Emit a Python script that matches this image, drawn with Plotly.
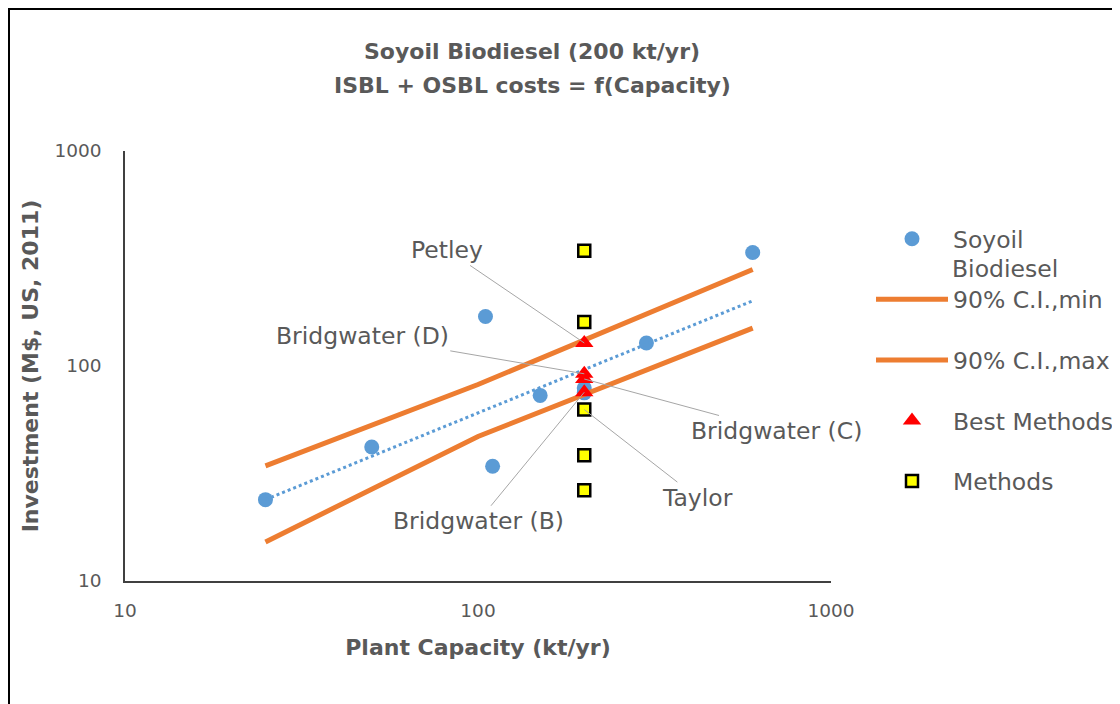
import math
import plotly.graph_objects as go

# ---- data ----
soy_capacity = [25, 50, 105, 110, 150, 200, 200, 300, 600]
soy_invest = [23.9, 42, 170, 34.2, 73, 79, 75, 128, 337]

trend_capacity = [25, 600]
trend_invest = [23.9, 201]

ci_capacity = [25, 100, 600]
ci_min = [15.2, 47, 150]
ci_max = [34.3, 82, 281]

best_capacity = [200, 200, 200, 200]
best_invest = [128, 92, 87, 75.5]

methods_capacity = [200, 200, 200, 200, 200]
methods_invest = [344, 160, 62.7, 38.5, 26.4]

# leader-line labels: text, value of the point it points to, pixel offset of the label
labels = ["Petley", "Bridgwater (D)", "Bridgwater (C)", "Taylor", "Bridgwater (B)"]
label_targets = [128, 92, 87, 62.7, 75.5]
label_offsets = [(-137, -93), (-222, -38), (192, 52), (113, 88), (-106, 129)]

# the page puts the figure 8px in from the window edge
OFF = 8
W, H = 1120 - OFF, 704 - OFF
L, R, T, B = 117, 289, 143, 123
PW, PH = W - L - R, H - T - B

def px(p):
    # screen pixel -> paper x
    return (p - OFF - L) / PW

def py(p):
    # screen pixel -> paper y
    return (H - B - (p - OFF)) / PH

FONT = "DejaVu Sans"
GREY = "#595959"
BLUE = "#5B9BD5"
ORANGE = "#ED7D31"

fig = go.Figure()

fig.add_trace(go.Scatter(
    x=soy_capacity, y=soy_invest, mode="markers", name="Soyoil",
    legendgroup="a", marker=dict(color=BLUE, size=15, symbol="circle")
))
fig.add_trace(go.Scatter(
    x=trend_capacity, y=trend_invest, mode="lines", showlegend=False,
    line=dict(color=BLUE, width=3, dash="dot")
))
fig.add_trace(go.Scatter(
    x=ci_capacity, y=ci_min, mode="lines", name="90% C.I.,min",
    legendgroup="b", line=dict(color=ORANGE, width=5)
))
fig.add_trace(go.Scatter(
    x=ci_capacity, y=ci_max, mode="lines", name="90% C.I.,max",
    legendgroup="c", line=dict(color=ORANGE, width=5)
))
fig.add_trace(go.Scatter(
    x=best_capacity, y=best_invest, mode="markers", name="Best Methods",
    legendgroup="d", marker=dict(color="#FF0000", size=16, symbol="triangle-up")
))
fig.add_trace(go.Scatter(
    x=methods_capacity, y=methods_invest, mode="markers", name="Methods",
    legendgroup="e",
    marker=dict(color="#FFFF00", size=12, symbol="square",
                line=dict(color="#000000", width=2.5))
))

annotations = []
for text, yv, (ax, ay) in zip(labels, label_targets, label_offsets):
    annotations.append(dict(
        x=math.log10(200), y=math.log10(yv), xref="x", yref="y",
        text=text, showarrow=True, arrowhead=0, arrowwidth=1,
        arrowcolor="#A6A6A6", ax=ax, ay=ay, standoff=0,
        font=dict(family=FONT, size=23.5, color=GREY)
    ))

# title (two lines) and the wrapped part of the first legend entry
annotations.append(dict(x=px(532), y=py(51), xref="paper", yref="paper",
                        xanchor="center", yanchor="middle",
                        text="<b>Soyoil Biodiesel (200 kt/yr)</b>", showarrow=False,
                        font=dict(family=FONT, size=22, color=GREY)))
annotations.append(dict(x=px(532), y=py(86), xref="paper", yref="paper",
                        xanchor="center", yanchor="middle",
                        text="<b>ISBL + OSBL costs = f(Capacity)</b>", showarrow=False,
                        font=dict(family=FONT, size=22, color=GREY)))
annotations.append(dict(x=px(950), y=py(269), xref="paper", yref="paper",
                        xanchor="left", yanchor="middle", text="Biodiesel",
                        showarrow=False,
                        font=dict(family=FONT, size=23.5, color=GREY)))

fig.update_layout(
    width=W, height=H,
    margin=dict(l=L, r=R, t=T, b=B, autoexpand=False),
    paper_bgcolor="white", plot_bgcolor="white",
    font=dict(family=FONT, color=GREY),
    showlegend=True,
    legend=dict(
        x=px(871), y=py(217), xanchor="left", yanchor="top",
        font=dict(family=FONT, size=23.5, color=GREY),
        traceorder="grouped", tracegroupgap=27, itemwidth=72,
        bgcolor="rgba(0,0,0,0)"
    ),
    annotations=annotations,
    shapes=[dict(type="rect", xref="paper", yref="paper",
                 x0=px(OFF + 0.75), x1=px(1140), y0=py(720), y1=py(OFF + 0.75),
                 line=dict(color="#000000", width=2.5))],
)

fig.update_xaxes(
    type="log", range=[1, 3], tickvals=[10, 100, 1000], ticktext=["10", "100", "1000"],
    showgrid=False, zeroline=False, showline=True, linecolor="#404040", linewidth=1.5,
    ticks="", ticklabelstandoff=12, tickfont=dict(family=FONT, size=18.5, color=GREY),
    title=dict(text="<b>Plant Capacity (kt/yr)</b>", standoff=20,
               font=dict(family=FONT, size=22, color=GREY))
)
fig.update_yaxes(
    type="log", range=[1, 3], tickvals=[10, 100, 1000], ticktext=["10", "100", "1000"],
    showgrid=False, zeroline=False, showline=True, linecolor="#404040", linewidth=1.5,
    ticks="", ticklabelstandoff=18, tickfont=dict(family=FONT, size=18.5, color=GREY),
    title=dict(text="<b>Investment (M$, US, 2011)</b>", standoff=10,
               font=dict(family=FONT, size=22, color=GREY))
)

fig.write_html("out.html")
